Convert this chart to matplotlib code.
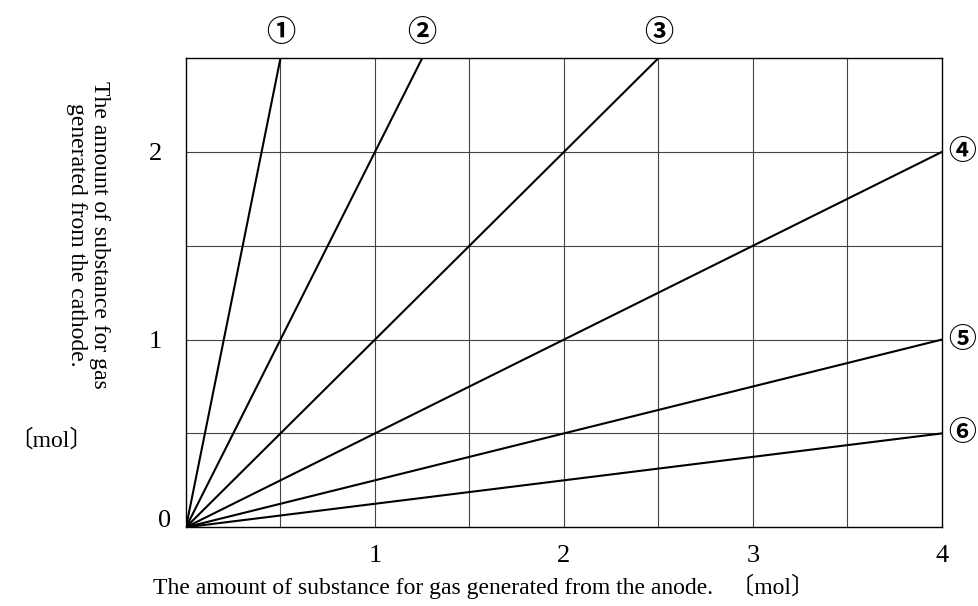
import matplotlib
matplotlib.use("Agg")
import matplotlib.pyplot as plt

# end points of the six lines (all start at the origin)
end_x = [0.5, 1.25, 2.5, 4.0, 4.0, 4.0]
end_y = [2.5, 2.5, 2.5, 2.0, 1.0, 0.5]
labels = ["①", "②", "③", "④", "⑤", "⑥"]

x_ticks = [1, 2, 3, 4]
y_ticks = [1, 2]
grid_x = [0.5, 1, 1.5, 2, 2.5, 3, 3.5]
grid_y = [0.5, 1, 1.5, 2]

serif = ["Liberation Serif", "Noto Sans CJK JP"]
circ = ["Noto Sans CJK JP", "DejaVu Sans"]

fig = plt.figure(figsize=(9.79, 6.06), dpi=100)
ax = fig.add_axes([0.190, 0.130, 0.772, 0.774])

for gx in grid_x:
    ax.axvline(gx, color="#444444", lw=0.8, zorder=1)
for gy in grid_y:
    ax.axhline(gy, color="#444444", lw=0.8, zorder=1)

for ex, ey, lab in zip(end_x, end_y, labels):
    ax.plot([0, ex], [0, ey], color="black", lw=1.5, zorder=3)
    if ey >= 2.5:
        ax.text(ex, ey + 0.06, lab, ha="center", va="bottom", fontsize=21,
                fontweight="bold", family=circ)
    else:
        ax.text(ex + 0.035, ey, lab, ha="left", va="center", fontsize=20,
                fontweight="bold", family=circ)

ax.set_xlim(0, 4)
ax.set_ylim(0, 2.5)
for s in ax.spines.values():
    s.set_linewidth(1.0)
    s.set_color("black")

ax.set_xticks(x_ticks)
ax.set_yticks(y_ticks)
ax.tick_params(length=0, labelsize=19)
ax.tick_params(axis="x", pad=13)
ax.tick_params(axis="y", pad=17)
for t in ax.get_xticklabels() + ax.get_yticklabels():
    t.set_family(serif)

ax.text(-0.08, 0.035, "0", ha="right", va="center", fontsize=19, family=serif)

fig.text(0.494, 0.012, "The amount of substance for gas generated from the anode.   〔mol〕",
         ha="center", va="bottom", fontsize=17, family=serif)
fig.text(0.09, 0.612, "The amount of substance for gas\ngenerated from the cathode.",
         ha="center", va="center", rotation=-90, fontsize=17, family=serif,
         linespacing=1.15)
fig.text(0.052, 0.273, "〔mol〕", ha="center", va="center", fontsize=17, family=serif)

fig.savefig("out.png", dpi=100)
